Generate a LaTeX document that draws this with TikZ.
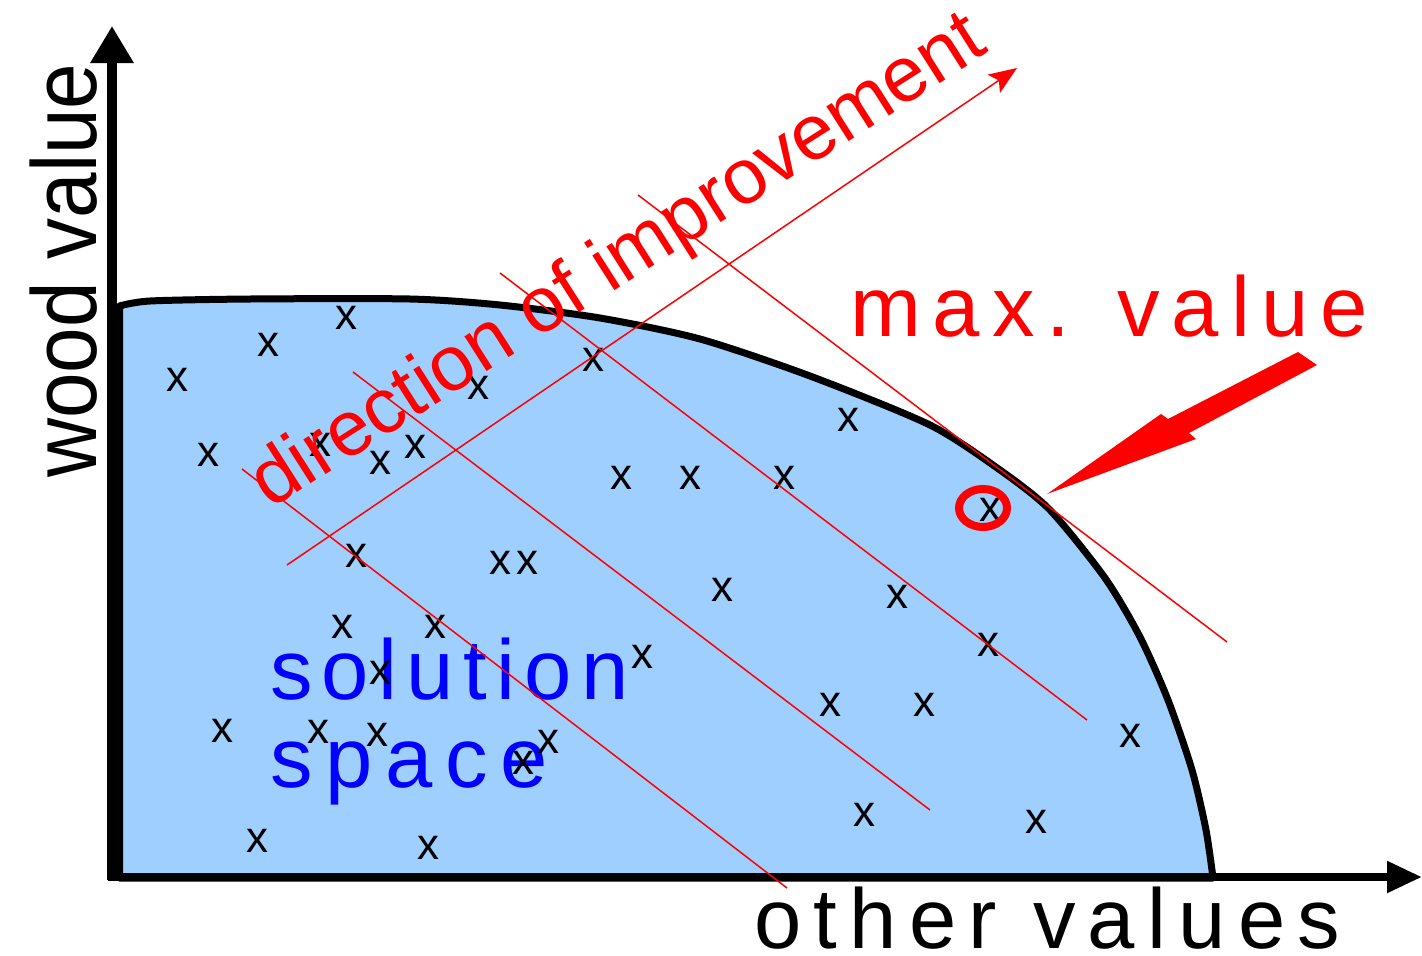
\documentclass[tikz,border=0pt]{standalone}
\usepackage{fontspec}
\setmainfont{Liberation Sans}
\usetikzlibrary{arrows.meta}
\definecolor{regionblue}{RGB}{159,207,255}
\definecolor{txtblue}{RGB}{0,0,255}
\definecolor{myred}{RGB}{255,0,0}
\begin{document}
\begin{tikzpicture}[x=1pt,y=-1pt,
  xmark/.style={inner sep=0pt, font=\fontsize{44}{50}\selectfont},
  redline/.style={draw=myred, line width=1.5pt},
  bigtext/.style={inner sep=0pt, anchor=base west, font=\fontsize{85}{90}\selectfont\addfontfeature{LetterSpace=#1}},
  axis/.style={draw=black, line width=#1}
]
\useasboundingbox (0,0) rectangle (1422,956);

% region
\fill[regionblue] (119.5,878) --
  plot[smooth, tension=0.45] coordinates {(119.5,306) (150,301) (250,299) (410,299) (500,305) (600,318) (700,339) (810,376) (930,425) (1000,470) (1050,510) (1105,578) (1140,637) (1168,700) (1192,770) (1206,830) (1213,878)} -- cycle;
\draw[line width=7pt, line join=round] (119.5,878) --
  plot[smooth, tension=0.45] coordinates {(119.5,306) (150,301) (250,299) (410,299) (500,305) (600,318) (700,339) (810,376) (930,425) (1000,470) (1050,510) (1105,578) (1140,637) (1168,700) (1192,770) (1206,830) (1213,878)} -- cycle;

% axes
\coordinate (origin) at (112,880);
\coordinate (ytip) at (112,26);
\coordinate (xorigin) at (108,877);
\coordinate (xtip) at (1422,877);
\draw[axis=10pt, -{Triangle[length=37pt,width=41pt]}] (origin) -- (ytip);
\draw[axis=8pt, -{Triangle[length=35pt,width=30pt]}] (xorigin) -- (xtip);

% blue text
\node[bigtext=11, text=txtblue] (sol) at (270,699) {solution};
\node[bigtext=15, text=txtblue] (spa) at (270,787) {space};

% x marks
\foreach \px/\py [count=\i] in {346/318, 268/345, 177/380, 208/455, 320/445, 380/463, 415/447, 478/388, 593/360, 848/420,
  621/478, 690/478, 784/478, 990/510, 356/556, 500/563, 527/563, 722/590, 897/597, 342/627,
  435/627, 642/657, 380/673, 988/645, 222/731, 318/732, 377/735, 548/742, 523/763, 830/705,
  924/705, 1130/736, 864/815, 1036/822, 257/841, 428/848}
  \node[xmark] (x\i) at (\px,\py) {x};

% red lines
\coordinate (l2a) at (638,195); \coordinate (l2b) at (1227,642);
\coordinate (l3a) at (500,273); \coordinate (l3b) at (1087,720);
\coordinate (l4a) at (353,372); \coordinate (l4b) at (930,810);
\coordinate (l5a) at (242,469); \coordinate (l5b) at (787,888);
\draw[redline] (l2a) -- (l2b);
\draw[redline] (l3a) -- (l3b);
\draw[redline] (l4a) -- (l4b);
\draw[redline] (l5a) -- (l5b);
\coordinate (dira) at (287,565); \coordinate (dirb) at (1017,68);
\draw[redline, -{Stealth[length=28pt,width=22pt,inset=6pt]}] (dira) -- (dirb);

% red texts
\node[inner sep=0pt, anchor=base west, rotate=32.5, text=myred, font=\fontsize{78}{80}\selectfont] (dirtext) at (270,510) {direction of improvement};
\node[bigtext=14, text=myred] (maxv) at (850,336) {max. value};

% optimum circle
\draw[myred, line width=8pt] (983,508) ellipse [x radius=24pt, y radius=19pt];

% lightning arrow
\fill[myred] (1047,494) -- (1161,414) -- (1168,419) -- (1298,352) -- (1317,365) -- (1189,433) -- (1196,439) -- cycle;

% axis labels
\node[bigtext=14.5] (xlab) at (754,948) {other values};
\node[inner sep=0pt, anchor=base west, rotate=90, font=\fontsize{92}{96}\selectfont] (ylab) at (96,478) {\scalebox{0.89}[1]{wood value}};
\end{tikzpicture}
\end{document}
